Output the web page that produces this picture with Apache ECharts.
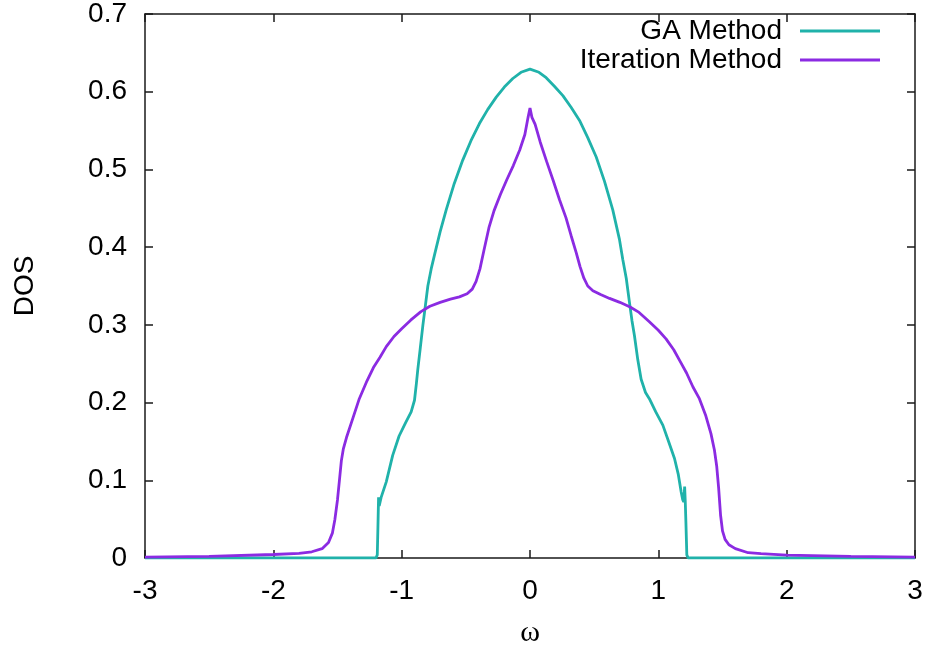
<!DOCTYPE html>
<html>
<head>
<meta charset="utf-8">
<script src="https://cdn.jsdelivr.net/npm/echarts@6/dist/echarts.min.js"></script>
<style>html,body{margin:0;padding:0;background:#fff}#c{width:930px;height:653px}</style>
</head>
<body>
<div id="c"></div>
<script>
// Data
const xTicks = [-3, -2, -1, 0, 1, 2, 3];
const yTicks = [0, 0.1, 0.2, 0.3, 0.4, 0.5, 0.6, 0.7];
const seriesNames = ['GA Method', 'Iteration Method'];

const gaOmega = [-3, -1.2, -1.19, -1.185, -1.18, -1.175, -1.16, -1.12, -1.07, -1.02, -0.97, -0.926, -0.9, -0.885, -0.874, -0.855, -0.835, -0.815, -0.796, -0.77, -0.744, -0.70, -0.653, -0.59, -0.524, -0.46, -0.394, -0.33, -0.263, -0.2, -0.134, -0.07, 0, 0.07, 0.126, 0.19, 0.256, 0.32, 0.386, 0.45, 0.516, 0.58, 0.645, 0.697, 0.723, 0.75, 0.775, 0.795, 0.814, 0.84, 0.866, 0.9, 0.93, 0.98, 1.035, 1.08, 1.126, 1.155, 1.178, 1.19, 1.198, 1.205, 1.21, 1.215, 1.222, 1.232, 3];
const gaDos = [0, 0, 0.004, 0.04, 0.078, 0.067, 0.078, 0.098, 0.132, 0.157, 0.174, 0.188, 0.203, 0.225, 0.243, 0.27, 0.299, 0.325, 0.350, 0.372, 0.39, 0.42, 0.448, 0.482, 0.512, 0.537, 0.559, 0.577, 0.593, 0.606, 0.617, 0.625, 0.629, 0.625, 0.618, 0.607, 0.595, 0.58, 0.563, 0.541, 0.516, 0.485, 0.448, 0.41, 0.384, 0.36, 0.329, 0.305, 0.286, 0.255, 0.230, 0.213, 0.205, 0.188, 0.171, 0.15, 0.128, 0.108, 0.085, 0.075, 0.072, 0.092, 0.072, 0.045, 0.004, 0, 0];

const iterOmega = [-3.0, -2.5, -2.0, -1.8, -1.7, -1.62, -1.57, -1.54, -1.52, -1.50, -1.485, -1.47, -1.455, -1.43, -1.38, -1.33, -1.27, -1.22, -1.17, -1.12, -1.06, -1.0, -0.93, -0.85, -0.78, -0.70, -0.62, -0.55, -0.49, -0.45, -0.42, -0.39, -0.36, -0.32, -0.28, -0.23, -0.18, -0.13, -0.08, -0.04, -0.015, 0, 0.015, 0.04, 0.08, 0.13, 0.18, 0.23, 0.28, 0.32, 0.36, 0.39, 0.42, 0.45, 0.49, 0.55, 0.62, 0.70, 0.78, 0.85, 0.93, 1.0, 1.06, 1.12, 1.17, 1.22, 1.27, 1.32, 1.37, 1.41, 1.437, 1.455, 1.47, 1.485, 1.50, 1.52, 1.55, 1.6, 1.7, 1.8, 2.0, 2.5, 3.0];
const iterDos = [0.0012, 0.002, 0.0045, 0.006, 0.008, 0.012, 0.02, 0.032, 0.05, 0.075, 0.1, 0.125, 0.14, 0.155, 0.18, 0.205, 0.228, 0.245, 0.258, 0.272, 0.285, 0.295, 0.306, 0.317, 0.324, 0.329, 0.333, 0.336, 0.340, 0.346, 0.356, 0.372, 0.395, 0.425, 0.447, 0.468, 0.487, 0.505, 0.525, 0.545, 0.567, 0.579, 0.567, 0.558, 0.535, 0.51, 0.486, 0.461, 0.438, 0.415, 0.393, 0.375, 0.36, 0.350, 0.344, 0.339, 0.334, 0.329, 0.323, 0.316, 0.304, 0.293, 0.282, 0.268, 0.253, 0.238, 0.22, 0.205, 0.183, 0.16, 0.139, 0.118, 0.09, 0.055, 0.035, 0.024, 0.017, 0.012, 0.0068, 0.0055, 0.0038, 0.002, 0.0012];

const zip = (a, b) => a.map((v, i) => [v, b[i]]);

const FONT = 'Liberation Sans, Arial, sans-serif';
const FS = 28;
const AXC = '#1a1a1a';
const chart = echarts.init(document.getElementById('c'), null, {renderer: 'canvas'});

const baseX = {
  type: 'value', min: xTicks[0], max: xTicks[xTicks.length - 1], interval: 1,
  axisLine: {show: true, onZero: false, lineStyle: {color: AXC, width: 1.5}},
  axisTick: {show: true, inside: true, length: 8, lineStyle: {color: AXC, width: 1.5}},
  splitLine: {show: false}
};
const baseY = {
  type: 'value', min: yTicks[0], max: yTicks[yTicks.length - 1], interval: 0.1,
  axisLine: {show: true, onZero: false, lineStyle: {color: AXC, width: 1.5}},
  axisTick: {show: true, inside: true, length: 8, lineStyle: {color: AXC, width: 1.5}},
  splitLine: {show: false}
};

chart.setOption({
  animation: false,
  backgroundColor: '#fff',
  grid: {left: 145, right: 15, top: 13, bottom: 93, containLabel: false},
  legend: {
    orient: 'vertical', align: 'right', right: 45, top: 12,
    icon: 'rect', itemWidth: 80, itemHeight: 3, itemGap: 1,
    textStyle: {fontFamily: FONT, fontSize: FS, color: '#000', padding: [0, 13, 0, 0]},
    data: seriesNames
  },
  xAxis: [
    Object.assign({}, baseX, {
      position: 'bottom',
      axisLabel: {show: true, margin: 19, fontFamily: FONT, fontSize: FS, color: '#000'},
      name: 'ω', nameLocation: 'middle', nameGap: 60,
      nameTextStyle: {fontFamily: 'Liberation Serif, Times New Roman, serif', fontSize: 30, color: '#000'}
    }),
    Object.assign({}, baseX, {position: 'top', axisLabel: {show: false}})
  ],
  yAxis: [
    Object.assign({}, baseY, {
      position: 'left',
      axisLabel: {show: true, margin: 18, fontFamily: FONT, fontSize: FS, color: '#000',
        formatter: v => (v === 0 ? '0' : v.toFixed(1))},
      name: 'DOS', nameLocation: 'middle', nameGap: 106, nameRotate: 90,
      nameTextStyle: {fontFamily: FONT, fontSize: FS, color: '#000'}
    }),
    Object.assign({}, baseY, {position: 'right', axisLabel: {show: false}})
  ],
  series: [
    {
      name: seriesNames[0], type: 'line', xAxisIndex: 0, yAxisIndex: 0,
      data: zip(gaOmega, gaDos), showSymbol: false, symbol: 'none',
      lineStyle: {color: '#20b2aa', width: 2.8}, itemStyle: {color: '#20b2aa'}
    },
    {
      name: seriesNames[1], type: 'line', xAxisIndex: 0, yAxisIndex: 0,
      data: zip(iterOmega, iterDos), showSymbol: false, symbol: 'none',
      lineStyle: {color: '#8b2be2', width: 2.8}, itemStyle: {color: '#8b2be2'}
    }
  ]
});
</script>
</body>
</html>
